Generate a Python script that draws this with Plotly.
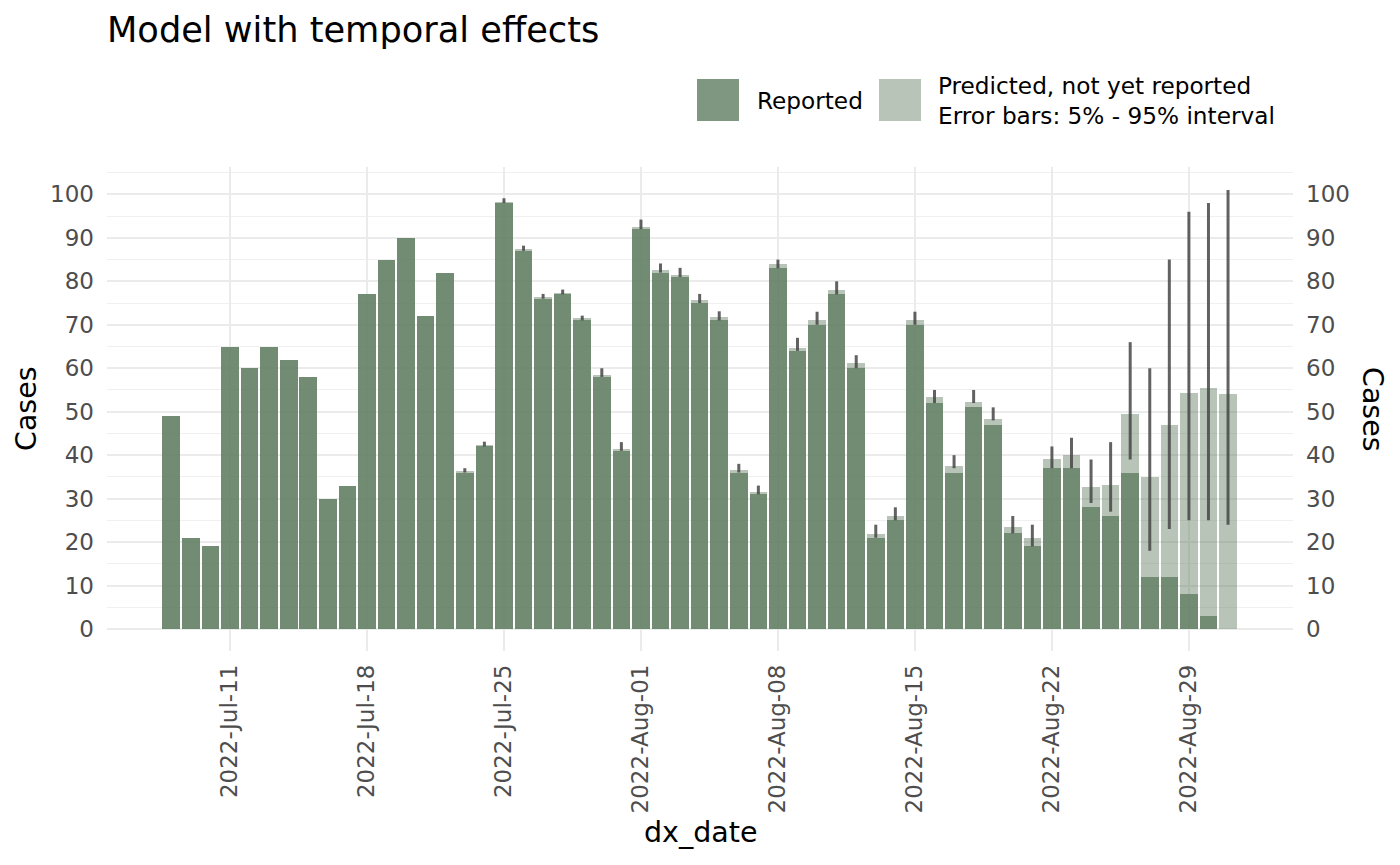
import pandas as pd
import plotly.graph_objects as go

# ---- data ----
dates = pd.date_range("2022-07-08", "2022-08-31", freq="D")
reported = [49, 21, 19, 65, 60, 65, 62, 58, 30, 33, 77, 85, 90, 72, 82,
            36, 42, 98, 87, 76, 77, 71, 58, 41,
            92, 82, 81, 75, 71, 36, 31,
            83, 64, 70, 77, 60, 21, 25,
            70, 52, 36, 51, 47, 22, 19,
            37, 37, 28, 26, 36, 12, 12, 8, 3, 0]
predicted = [49, 21, 19, 65, 60, 65, 62, 58, 30, 33, 77, 85, 90, 72, 82,
             36.3, 42.3, 98.3, 87.4, 76.4, 77.3, 71.5, 58.5, 41.5,
             92.6, 82.6, 81.5, 75.6, 71.7, 36.6, 31.6,
             83.9, 64.7, 71.0, 77.9, 61.1, 21.9, 26.0,
             71.2, 53.3, 37.4, 52.3, 48.4, 23.4, 21.0,
             39.2, 40.1, 32.7, 33.2, 49.5, 35.0, 47.0, 54.4, 55.5, 54.1]
q05 = [None] * 15 + [36, 42, 98, 87, 76, 77, 71, 58, 41,
                     92, 82, 81, 75, 71, 36, 31,
                     83, 64, 70, 77, 60, 21, 25,
                     70, 52, 37, 52, 48, 22, 19,
                     37, 37, 29, 27, 39, 18, 23, 25, 25, 24]
q95 = [None] * 15 + [37.0, 43.1, 99.1, 88.2, 77.1, 78.1, 72.1, 60, 43,
                     94.2, 84.1, 83.1, 77.1, 73.1, 38, 33,
                     85, 67, 73, 80, 63, 24, 28,
                     73, 55, 40, 55, 51, 26, 24,
                     42, 44, 39, 43, 66, 60, 85, 96, 98, 101]
tick_dates = pd.date_range("2022-07-11", "2022-08-29", freq="7D")
y_ticks = list(range(0, 101, 10))

# ---- style ----
FONT = "DejaVu Sans"
PRED_FILL = "rgba(97,127,98,0.46)"
REP_FILL = "rgba(97,127,98,0.81)"
GRID = "#ebebeb"
TICKC = "#4d4d4d"
OFF = 8                       # page body margin of the html page
W, H = 1400 - OFF, 865 - OFF  # figure size in page pixels
# target panel in window coordinates: x 107..1293, y 167..651
L, R, T, B = 107 - OFF, 1400 - 1293, 167 - OFF, 865 - 651
PW, PH = W - L - R, H - T - B
bar_w = 0.9 * 86400000


def fx(px):  # window pixel x -> paper
    return (px - OFF - L) / PW


def fy(py):  # window pixel y -> paper
    return (H - B - (py - OFF)) / PH


err_len = [None if (u is None or l is None) else u - l for u, l in zip(q95, q05)]
err_minus = [None if e is None else 0 for e in err_len]

fig = go.Figure()
fig.add_trace(go.Bar(x=dates, y=predicted, width=bar_w, marker=dict(color=PRED_FILL, line=dict(width=0)),
                     name="Predicted, not yet reported", showlegend=False, hoverinfo="skip"))
fig.add_trace(go.Bar(x=dates, y=reported, width=bar_w, marker=dict(color=REP_FILL, line=dict(width=0)),
                     name="Reported", showlegend=False, hoverinfo="skip"))
fig.add_trace(go.Scatter(x=dates, y=q05, mode="markers",
                         marker=dict(size=1, color="rgba(0,0,0,0)"),
                         error_y=dict(type="data", symmetric=False, array=err_len, arrayminus=err_minus,
                                      color="rgba(70,70,70,0.85)", thickness=3, width=0),
                         showlegend=False, hoverinfo="skip"))
fig.add_trace(go.Scatter(x=[dates[0]], y=[0], yaxis="y2", mode="markers",
                         marker=dict(size=1, color="rgba(0,0,0,0)"), showlegend=False, hoverinfo="skip"))

x_lo = pd.Timestamp("2022-07-04 17:10")
x_hi = pd.Timestamp("2022-09-03 07:40")
y_rng = [-5.06, 106.3]

fig.update_layout(
    width=W, height=H,
    margin=dict(l=L, r=R, t=T, b=B, autoexpand=False),
    paper_bgcolor="white", plot_bgcolor="white",
    barmode="overlay", bargap=0,
    font=dict(family=FONT, color=TICKC, size=23),
    showlegend=False,
    title=dict(text="Model with temporal effects", x=(107 - OFF) / W, xref="container", xanchor="left",
               y=1 - (30 - OFF) / H, yref="container", yanchor="middle",
               font=dict(family=FONT, size=35.2, color="black")),
    xaxis=dict(type="date", range=[x_lo, x_hi], tickvals=tick_dates, tickformat="%Y-%b-%d",
               tickangle=-90, showgrid=True, gridcolor=GRID, gridwidth=2, zeroline=False,
               showline=False, ticks="", ticklabelstandoff=8,
               tickfont=dict(family=FONT, size=23, color=TICKC)),
    yaxis=dict(range=y_rng, tickvals=y_ticks, showgrid=True, gridcolor=GRID, gridwidth=2,
               zeroline=False, showline=False, ticks="", ticklabelstandoff=12,
               tickfont=dict(family=FONT, size=23, color=TICKC),
               minor=dict(dtick=5, tick0=0, showgrid=True, gridcolor="#f0f0f0", gridwidth=1)),
    yaxis2=dict(range=y_rng, tickvals=y_ticks, overlaying="y", side="right", matches="y",
                showgrid=False, zeroline=False, showline=False, ticks="", ticklabelstandoff=12,
                tickfont=dict(family=FONT, size=23, color=TICKC)),
)

# axis titles
fig.add_annotation(text="Cases", xref="paper", yref="paper", x=fx(26), y=0.5,
                   textangle=-90, showarrow=False, xanchor="center", yanchor="middle",
                   font=dict(family=FONT, size=28.5, color="black"))
fig.add_annotation(text="Cases", xref="paper", yref="paper", x=fx(1373), y=0.5,
                   textangle=90, showarrow=False, xanchor="center", yanchor="middle",
                   font=dict(family=FONT, size=28.5, color="black"))
fig.add_annotation(text="dx_date", xref="paper", yref="paper", x=0.5, y=fy(832),
                   showarrow=False, xanchor="center", yanchor="middle",
                   font=dict(family=FONT, size=28.5, color="black"))

# custom legend (keys + labels)
fig.add_shape(type="rect", xref="paper", yref="paper", line=dict(width=0), fillcolor=REP_FILL,
              x0=fx(697), x1=fx(739), y0=fy(121), y1=fy(79))
fig.add_shape(type="rect", xref="paper", yref="paper", line=dict(width=0), fillcolor=PRED_FILL,
              x0=fx(879), x1=fx(921), y0=fy(121), y1=fy(79))
fig.add_annotation(text="Reported", xref="paper", yref="paper", x=fx(755), y=fy(101),
                   xanchor="left", yanchor="middle", showarrow=False, align="left",
                   font=dict(family=FONT, size=23.2, color="black"))
fig.add_annotation(text="Predicted, not yet reported<br>Error bars: 5% - 95% interval",
                   xref="paper", yref="paper", x=fx(936), y=fy(101),
                   xanchor="left", yanchor="middle", showarrow=False, align="left",
                   font=dict(family=FONT, size=23.2, color="black"))

fig.write_html("out.html")
